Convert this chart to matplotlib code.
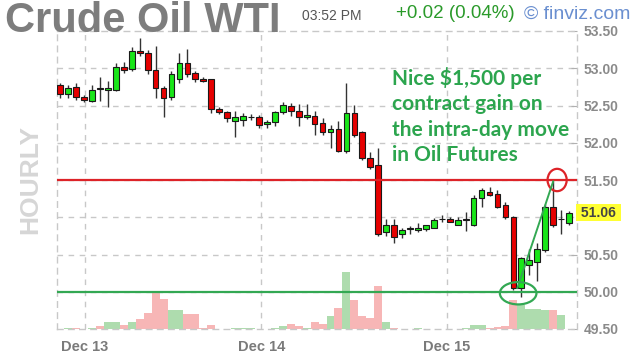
import matplotlib
matplotlib.use("Agg")
import matplotlib.pyplot as plt
from matplotlib.patches import Ellipse
import numpy as np

# hourly candles, Dec 13 - Dec 15
opens = [52.78, 52.65, 52.75, 52.62, 52.56, 52.72, 52.71, 52.71, 53.02, 52.99,
         53.23, 53.20, 52.98, 52.73, 52.61, 52.86, 53.07, 52.93, 52.86, 52.85,
         52.45, 52.41, 52.29, 52.30, 52.34, 52.35, 52.25, 52.28, 52.41, 52.49,
         52.43, 52.34, 52.36, 52.26, 52.15, 52.18, 51.89, 52.40, 52.15, 51.80,
         51.70, 50.80, 50.89, 50.77, 50.84, 50.83, 50.84, 50.86, 50.97, 50.97,
         50.90, 50.96, 50.90, 51.26, 51.34, 51.31, 51.17, 51.00, 50.05, 50.36,
         50.40, 50.56, 51.14, 50.97, 50.92]
highs = [52.80, 52.78, 52.80, 52.64, 52.78, 52.88, 52.83, 53.07, 53.08, 53.28,
         53.40, 53.24, 53.30, 52.76, 52.96, 53.20, 53.26, 52.96, 52.88, 52.86,
         52.48, 52.43, 52.43, 52.40, 52.38, 52.37, 52.30, 52.43, 52.55, 52.53,
         52.52, 52.52, 52.42, 52.33, 52.24, 52.29, 52.80, 52.51, 52.16, 51.88,
         51.93, 50.98, 50.98, 50.86, 50.88, 50.92, 50.90, 50.99, 51.03, 51.00,
         51.00, 51.07, 51.30, 51.39, 51.40, 51.37, 51.21, 51.02, 50.47, 50.58,
         50.65, 51.18, 51.48, 51.10, 51.08]
lows = [52.60, 52.60, 52.58, 52.55, 52.55, 52.56, 52.48, 52.70, 52.93, 52.96,
        53.17, 52.92, 52.60, 52.35, 52.58, 52.80, 52.88, 52.82, 52.82, 52.40,
        52.38, 52.28, 52.08, 52.22, 52.30, 52.20, 52.20, 52.22, 52.38, 52.36,
        52.22, 52.32, 52.10, 52.11, 51.93, 51.87, 51.86, 52.08, 51.77, 51.65,
        50.75, 50.75, 50.65, 50.72, 50.78, 50.80, 50.82, 50.85, 50.94, 50.93,
        50.89, 50.82, 50.88, 51.14, 51.28, 51.12, 50.98, 50.03, 49.93, 50.22,
        50.15, 50.54, 50.87, 50.77, 50.90]
closes = [52.65, 52.74, 52.62, 52.57, 52.71, 52.71, 52.74, 53.02, 52.97, 53.23,
          53.20, 52.98, 52.74, 52.60, 52.92, 53.07, 52.92, 52.86, 52.83, 52.45,
          52.41, 52.33, 52.34, 52.36, 52.35, 52.24, 52.28, 52.41, 52.51, 52.43,
          52.34, 52.37, 52.25, 52.14, 52.18, 51.89, 52.40, 52.11, 51.79, 51.67,
          50.78, 50.89, 50.74, 50.83, 50.85, 50.86, 50.89, 50.96, 50.98, 50.94,
          50.96, 50.97, 51.26, 51.37, 51.30, 51.14, 51.00, 50.05, 50.45, 50.43,
          50.58, 51.14, 50.90, 50.98, 51.06]
volume = [0.5, 1, 1, 0.5, 1, 3, 7, 7, 4, 7,
          10, 16, 36, 30, 19, 19, 15, 15, 1, 4,
          0, 0, 1, 1, 1, 0, 0, 1.5, 3, 5,
          3, 1, 7, 5, 13, 21, 57, 29, 13, 11,
          43, 7, 1, 0, 0, 1, 0, 0, 0, 0,
          0, 1.5, 4, 4, 1, 2, 3, 29, 24, 20,
          20, 19, 19, 14, 0]

day_labels = ["Dec 13", "Dec 14", "Dec 15"]
day_pos = [3.1, 25.3, 48.6]
price_ticks = [53.5, 53.0, 52.5, 52.0, 51.5, 50.5, 50.0, 49.5]
grid_levels = [53.0, 52.5, 52.0, 51.5, 51.0, 50.5, 50.0]
resistance = 51.50
support = 50.00
last_price = 51.06

o = np.array(opens); h = np.array(highs); l = np.array(lows); c = np.array(closes)
x = np.arange(len(o))
up = c >= o

fig = plt.figure(figsize=(6.4, 3.6), dpi=100)
fig.patch.set_facecolor("white")
ax = fig.add_axes([57/640, 1-329/360, 520/640, 298/360])
axv = ax.twinx()
ax.set_zorder(axv.get_zorder() + 1)
ax.patch.set_visible(False)

# volume
vcol = np.where(up, "#aedcae", "#f7b6b6")
axv.bar(x, volume, width=1.0, color=vcol, linewidth=0)
axv.set_ylim(0, max(volume) * 298 / 57)
axv.set_yticks([])
for s in axv.spines.values():
    s.set_visible(False)

ax.set_xlim(-0.4, 65.0)
ax.set_ylim(49.5, 53.5)

dash = (0, (4, 4))
for g in grid_levels:
    ax.axhline(g, color="#c8c8c8", lw=1, ls=dash, zorder=0)
for d in day_pos:
    ax.axvline(d, color="#c8c8c8", lw=1, ls=dash, zorder=0)
for s in ax.spines.values():
    s.set_color("#c8c8c8")
    s.set_linestyle(dash)
    s.set_linewidth(1)

# candles
ax.vlines(x, l, h, color="#333333", lw=1, zorder=2)
body = np.where(np.abs(c - o) < 0.01, 0.01, c - o)
ax.bar(x, body, bottom=o, width=0.72, color=np.where(up, "#19e619", "#e60000"),
       edgecolor="#1a1a1a", linewidth=0.8, zorder=3)

# support / resistance
ax.axhline(resistance, color="#dd2328", lw=1.6, zorder=4)
ax.axhline(support, color="#33a853", lw=1.6, zorder=4)

lo_i = int(np.argmin(l))
hi_i = lo_i + int(np.argmax(h[lo_i:]))
ax.add_patch(Ellipse((lo_i - 0.4, support - 0.02), 4.6, 0.3, fill=False,
                     edgecolor="#33a853", lw=1.6, zorder=5))
ax.add_patch(Ellipse((hi_i + 0.5, resistance), 2.4, 0.3, fill=False,
                     edgecolor="#dd2328", lw=1.6, zorder=5))
ax.plot([lo_i - 0.5, hi_i], [c[lo_i - 1], h[hi_i]], color="#33a853", lw=1.4, zorder=5)

fig.text(392/640, 1-67/360, "Nice $1,500 per\ncontract gain on\nthe intra-day move\nin Oil Futures",
         va="top", ha="left", color="#2ca54e", fontsize=15, fontweight="bold",
         family="Lato", linespacing=1.33, zorder=6)

# axes labels
ax.yaxis.tick_right()
ax.set_yticks(price_ticks)
ax.set_yticklabels([f"{p:.2f}" for p in price_ticks])
ax.tick_params(axis="y", direction="in", length=4, color="#b0b0b0", pad=5,
               labelsize=10, labelcolor="#8a8a8a")
ax.set_xticks(day_pos)
ax.set_xticklabels(day_labels)
ax.tick_params(axis="x", length=0, pad=8, labelsize=10.5, labelcolor="#7a7a7a")
for t in ax.get_xticklabels() + ax.get_yticklabels():
    t.set_fontweight("bold")
    t.set_family("Liberation Sans")

ax.text(1.0, last_price, f" {last_price:.2f} ", transform=ax.get_yaxis_transform(),
        ha="left", va="center", fontsize=10, fontweight="bold", color="#444444",
        family="Liberation Sans",
        bbox=dict(boxstyle="square,pad=0.1", fc="#ffff33", ec="none"))

# header
fig.text(5/640, 1-21/360, "Crude Oil WTI", fontsize=30, fontweight="bold",
         color="#7d7d7d", family="Liberation Sans", va="center", ha="left")
fig.text(302/640, 1-16/360, "03:52 PM", fontsize=10, color="#555555",
         family="Liberation Sans", va="center")
fig.text(396/640, 1-14/360, "+0.02 (0.04%)", fontsize=13.5, color="#2a9a2a",
         family="Liberation Sans", va="center")
fig.text(524/640, 1-14/360, "\u00a9 finviz.com", fontsize=14, color="#6a8fd0",
         family="Liberation Sans", va="center")
fig.text(30/640, 1-180/360, "HOURLY", rotation=90, fontsize=19, fontweight="bold",
         color="#d6d6d6", family="Liberation Sans", va="center", ha="center")

fig.savefig("out.png", dpi=100)
